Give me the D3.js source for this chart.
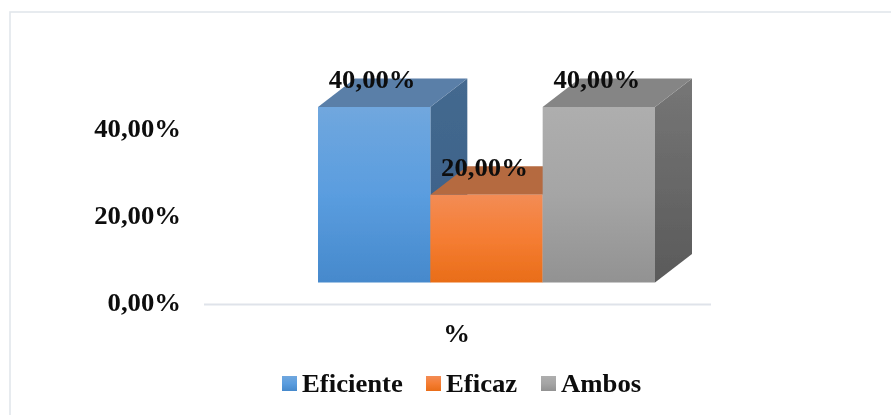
<!DOCTYPE html>
<html><head><meta charset="utf-8">
<script src="https://cdn.jsdelivr.net/npm/d3@7"></script>
<style>html,body{margin:0;padding:0;background:#fff;overflow:hidden}svg{display:block}text{font-family:"Liberation Serif",serif;font-weight:bold;fill:#0a0a0a}</style>
</head><body><svg id="c" width="891" height="415"></svg>
<script>
const categories = ["Eficiente","Eficaz","Ambos"];
const values = [40,20,40];
const tickValues = [0,20,40];
const axisTitle = "%";
const fmt = v => v.toFixed(2).replace(".",",")+"%";
const frontTop = ["#70a7de","#f38c55","#aeaeae"];
const frontMid = ["#5a9ddf","#f57d33","#a5a5a5"];
const frontBot = ["#4689cc","#e96d18","#929292"];
const topCol = ["#5a7fa8","#b56a41","#858585"];
const sideTop = ["#44698f","#44698f","#767676"];
const sideBot = ["#3a5f87","#3a5f87","#5a5a5a"];

const svg = d3.select("#c");
const defs = svg.append("defs");
categories.forEach((c,i)=>{
  const g = defs.append("linearGradient").attr("id","f"+i).attr("x1",0).attr("y1",0).attr("x2",0).attr("y2",1);
  g.append("stop").attr("offset",0).attr("stop-color",frontTop[i]);
  g.append("stop").attr("offset",.5).attr("stop-color",frontMid[i]);
  g.append("stop").attr("offset",1).attr("stop-color",frontBot[i]);
  const s = defs.append("linearGradient").attr("id","s"+i).attr("x1",0).attr("y1",0).attr("x2",0).attr("y2",1);
  s.append("stop").attr("offset",0).attr("stop-color",sideTop[i]);
  s.append("stop").attr("offset",1).attr("stop-color",sideBot[i]);
});
const blur = defs.append("filter").attr("id","b").attr("x","-5%").attr("y","-5%").attr("width","110%").attr("height","110%");
blur.append("feGaussianBlur").attr("stdDeviation",0.5);
const tblur = defs.append("filter").attr("id","t").attr("filterUnits","userSpaceOnUse").attr("x",0).attr("y",0).attr("width",891).attr("height",415);
tblur.append("feGaussianBlur").attr("stdDeviation",0.35);

svg.append("rect").attr("x",10).attr("y",12).attr("width",900).attr("height",420).attr("fill","#fff").attr("stroke","#e2e6eb").attr("stroke-width",1.6);

const x = d3.scaleBand().domain(categories).range([318,655]).padding(0);
const y = d3.scaleLinear().domain([0,40]).range([282.5,107]);
const axisY = d3.scaleLinear().domain([0,40]).range([303,128.5]);
const dx = 37, dy = 28.5;
const fontSize = 25.7, stretch = 1.04;
const marks = svg.append("g").attr("filter","url(#b)");
const poly = pts => "M"+pts.map(p=>p.join(",")).join("L")+"Z";
const order = [0,2,1];
order.forEach(i=>{
  const c = categories[i], x0=x(c), x1=x0+x.bandwidth(), yt=y(values[i]), yb=y(0);
  marks.append("path").attr("d",poly([[x1,yt],[x1+dx,yt-dy],[x1+dx,yb-dy],[x1,yb]])).attr("fill",`url(#s${i})`);
  marks.append("path").attr("d",poly([[x0,yt],[x0+dx,yt-dy],[x1+dx,yt-dy],[x1,yt]])).attr("fill",topCol[i]);
});
categories.forEach((c,i)=>{
  marks.append("rect").attr("x",x(c)).attr("y",y(values[i])).attr("width",x.bandwidth()).attr("height",y(0)-y(values[i])).attr("fill",`url(#f${i})`);
});
const txt = svg.append("g").attr("filter","url(#t)").attr("font-size",fontSize);
const put = (px,py,s,anchor) => txt.append("text").attr("transform",`translate(${px},${py}) scale(${stretch},1)`).attr("text-anchor",anchor).text(s);
categories.forEach((c,i)=>{
  put(x(c)+x.bandwidth()/2-2, y(values[i])-19, fmt(values[i]), "middle");
});
svg.append("line").attr("x1",204).attr("x2",711).attr("y1",304.5).attr("y2",304.5).attr("stroke","#dfe3ea").attr("stroke-width",2);
tickValues.forEach(t=>{ put(181, axisY(t)+8, fmt(t), "end"); });
put(456.5, 342, axisTitle, "middle");
const legX = [282,426,541], legT = [302,446,561];
categories.forEach((c,i)=>{
  svg.append("rect").attr("x",legX[i]).attr("y",376).attr("width",15).attr("height",15).attr("fill",`url(#f${i})`);
  put(legT[i], 391.5, c, "start");
});
</script></body></html>
